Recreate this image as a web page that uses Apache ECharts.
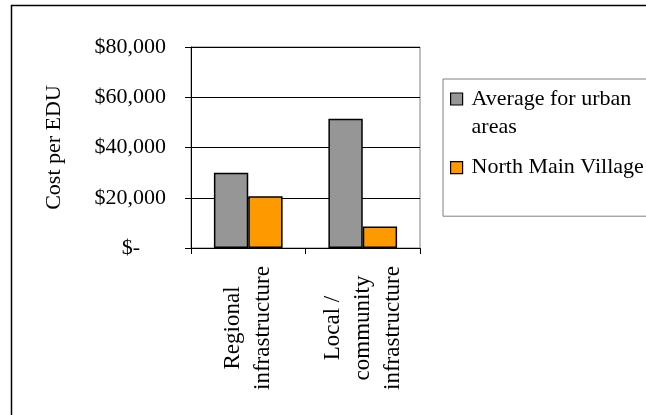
<!DOCTYPE html>
<html>
<head>
<meta charset="utf-8">
<script src="https://cdn.jsdelivr.net/npm/echarts@6/dist/echarts.min.js"></script>
<style>
  html, body { margin: 0; padding: 0; background: #fff; }
  #chart { width: 646px; height: 415px; }
</style>
</head>
<body>
<div id="chart"></div>
<script>
// Cost per EDU by infrastructure type
const categories = ['Regional\ninfrastructure', 'Local /\ncommunity\ninfrastructure'];
const seriesNames = ['Average for urban areas', 'North Main Village'];
const urbanAverage = [30000, 51400];
const northMainVillage = [20600, 8600];
const yTicks = [0, 20000, 40000, 60000, 80000];

const FONT = 'Liberation Serif, Times New Roman, serif';

function money(v) {
  if (v === 0) return '{z|$-}';
  return '$' + v.toLocaleString('en-US');
}

const chart = echarts.init(document.getElementById('chart'), null, { renderer: 'canvas' });

chart.setOption({
  animation: false,
  backgroundColor: '#fff',
  graphic: [{
    type: 'rect',
    shape: { x: 11.5, y: 5.5, width: 700, height: 500 },
    style: { fill: 'none', stroke: '#000', lineWidth: 1.5 },
    silent: true,
    z: 100
  }],
  grid: {
    left: 191, right: 226, top: 47, bottom: 167,
    show: true, borderColor: '#808080', borderWidth: 1
  },
  legend: {
    orient: 'vertical',
    left: 443,
    top: 79,
    padding: [6, 30, 28, 7],
    itemGap: 6,
    itemWidth: 12,
    itemHeight: 40,
    borderColor: '#808080',
    borderWidth: 1,
    data: [
      { name: seriesNames[0], icon: 'path://M0,0H12V12H0Z M0,40' },
      { name: seriesNames[1], icon: 'path://M0,0 M0,14H12V26H0Z M0,40' }
    ],
    formatter: function (name) {
      return name === seriesNames[0] ? 'Average for urban\nareas' : name;
    },
    itemStyle: { borderColor: '#000', borderWidth: 1.2 },
    textStyle: {
      fontFamily: FONT, fontSize: 22, lineHeight: 28, color: '#000',
      padding: [0, 0, 0, 4]
    }
  },
  xAxis: {
    type: 'category',
    data: categories,
    axisLine: { lineStyle: { color: '#000', width: 1 } },
    axisTick: { show: true, length: 6, alignWithLabel: false, lineStyle: { color: '#000' } },
    axisLabel: {
      rotate: 90,
      align: 'center',
      verticalAlign: 'middle',
      margin: 80,
      interval: 0,
      fontFamily: FONT,
      fontSize: 23,
      lineHeight: 30,
      color: '#000'
    }
  },
  yAxis: {
    type: 'value',
    min: yTicks[0],
    max: yTicks[yTicks.length - 1],
    interval: yTicks[1] - yTicks[0],
    name: 'Cost per EDU',
    nameLocation: 'middle',
    nameGap: 126,
    nameTextStyle: { fontFamily: FONT, fontSize: 22, color: '#000' },
    axisLine: { show: true, lineStyle: { color: '#000', width: 1 } },
    axisTick: { show: true, length: 6, lineStyle: { color: '#000' } },
    splitLine: { show: true, lineStyle: { color: '#000', width: 1 } },
    axisLabel: {
      margin: 25,
      fontFamily: FONT,
      fontSize: 22,
      color: '#000',
      formatter: money,
      rich: {
        z: { fontFamily: FONT, fontSize: 22, color: '#000', padding: [0, 26, 0, 0] }
      }
    }
  },
  series: [
    {
      name: seriesNames[0],
      type: 'bar',
      data: urbanAverage,
      barGap: '0%',
      barCategoryGap: '40%',
      itemStyle: { color: '#969696', borderColor: '#000', borderWidth: 1.5 }
    },
    {
      name: seriesNames[1],
      type: 'bar',
      data: northMainVillage,
      itemStyle: { color: '#FF9900', borderColor: '#000', borderWidth: 1.5 }
    }
  ]
});
</script>
</body>
</html>
